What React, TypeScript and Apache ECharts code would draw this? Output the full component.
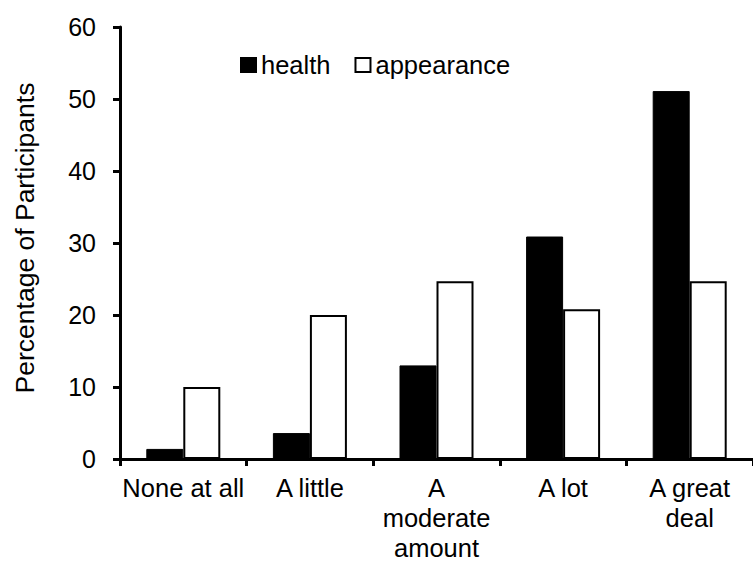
import React, { useEffect, useRef } from "react";
import * as echarts from "echarts";

const categories = ["None at all", "A little", "A\nmoderate\namount", "A lot", "A great\ndeal"];
const healthValues = [1.4, 3.6, 13.0, 30.9, 51.1];
const appearanceValues = [10.0, 20.0, 24.7, 20.8, 24.7];
const seriesNames = ["health", "appearance"];
const yTicks = { min: 0, max: 60, interval: 10 };
const yAxisTitle = "Percentage of Participants";

const FONT = "Liberation Sans, Arial, sans-serif";

export default function App() {
  const ref = useRef<HTMLDivElement>(null);
  useEffect(() => {
    if (!ref.current) return;
    const chart = echarts.init(ref.current, undefined, { renderer: "svg" });
    chart.setOption({
      animation: false,
      backgroundColor: "#ffffff",
      textStyle: { fontFamily: FONT, color: "#000" },
      grid: { left: 120, top: 27, width: 641.5, height: 432, containLabel: false },
      legend: {
        left: 240,
        top: 52,
        padding: 0,
        itemWidth: 15,
        itemHeight: 14,
        itemGap: 24,
        icon: "rect",
        data: seriesNames,
        textStyle: { fontFamily: FONT, fontSize: 25.5, color: "#000" },
      },
      graphic: [
        {
          type: "text",
          x: 25,
          y: 238,
          rotation: Math.PI / 2,
          style: {
            text: yAxisTitle,
            fontFamily: FONT,
            fontSize: 26.5,
            fill: "#000",
            align: "center",
            verticalAlign: "middle",
          },
        },
      ],
      xAxis: {
        type: "category",
        data: categories,
        boundaryGap: true,
        z: 10,
        axisLine: { show: true, lineStyle: { color: "#000", width: 3 } },
        axisTick: { show: true, length: 7, lineStyle: { color: "#000", width: 3 } },
        axisLabel: {
          interval: 0,
          margin: 14,
          fontFamily: FONT,
          fontSize: 25.5,
          lineHeight: 30,
          color: "#000",
          align: "center",
        },
        splitLine: { show: false },
      },
      yAxis: {
        type: "value",
        min: yTicks.min,
        max: yTicks.max,
        interval: yTicks.interval,
        z: 10,
        axisLine: { show: true, lineStyle: { color: "#000", width: 3 } },
        axisTick: { show: true, length: 7, lineStyle: { color: "#000", width: 3 } },
        axisLabel: { margin: 24, fontFamily: FONT, fontSize: 25, color: "#000" },
        splitLine: { show: false },
      },
      series: [
        {
          name: seriesNames[0],
          type: "bar",
          data: healthValues,
          barWidth: 37,
          barGap: "0%",
          itemStyle: { color: "#000", borderColor: "#000", borderWidth: 1 },
        },
        {
          name: seriesNames[1],
          type: "bar",
          data: appearanceValues,
          barWidth: 37,
          barGap: "0%",
          itemStyle: { color: "#fff", borderColor: "#000", borderWidth: 2 },
        },
      ],
    });
    return () => chart.dispose();
  }, []);
  return (
    <div
      ref={ref}
      style={{ position: "absolute", left: 0, top: 0, width: 753, height: 563 }}
    />
  );
}
